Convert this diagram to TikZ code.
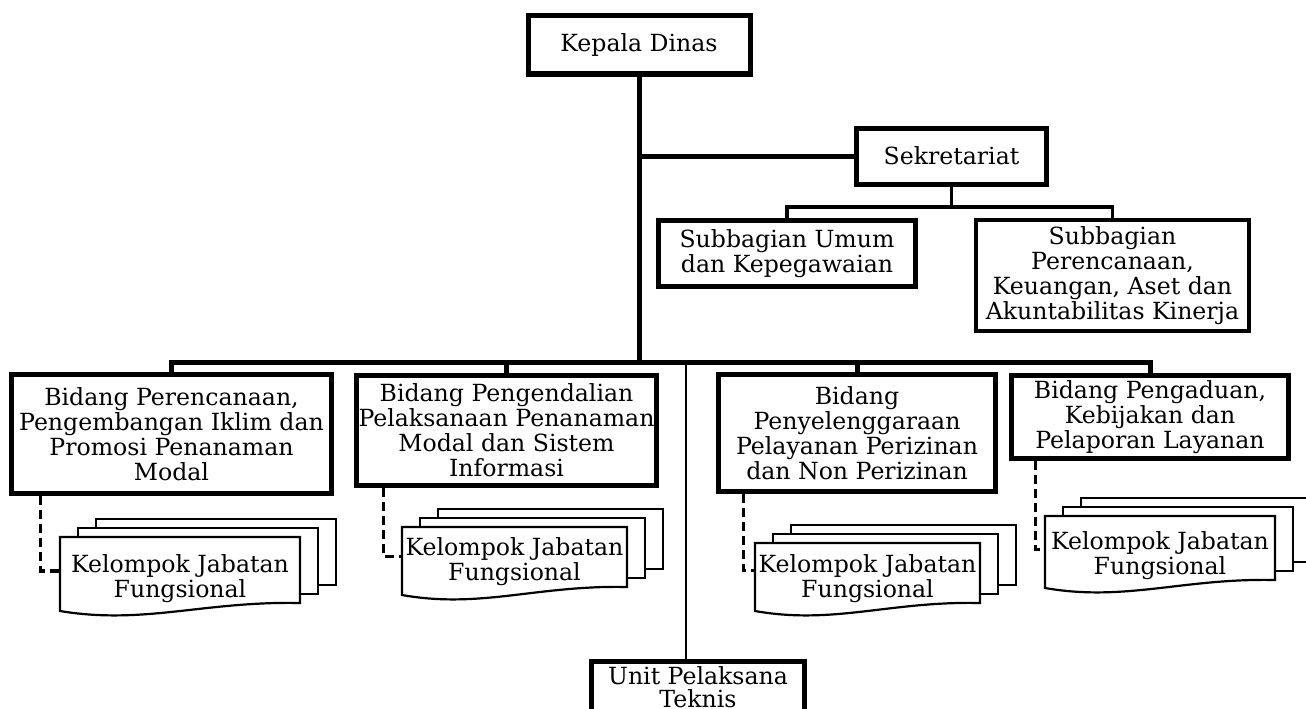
\documentclass[tikz,border=0pt]{standalone}
\usepackage{fontspec}
\setmainfont{DejaVu Serif}
\usetikzlibrary{calc}
\newcommand\kjfsheets[4]{%
  \draw[sheet] ({#1+36},{#2-18}) rectangle ++(#3,#4);
  \draw[sheet] ({#1+18},{#2-9}) rectangle ++(#3,#4);
  \draw[sheet] (#1,#2) -- ({#1+#3},#2) -- ({#1+#3},{#2+#4})
     .. controls ({#1+0.6*#3},{#2+#4-2}) and ({#1+0.35*#3},{#2+#4+22}) ..
     (#1,{#2+#4+8}) -- cycle;}
\begin{document}
\begin{tikzpicture}[x=1pt,y=-1pt,
  txt/.style={font=\fontsize{23.6}{25}\selectfont},
  box/.style={txt,draw,line width=5pt,fill=white,align=center,inner sep=0pt},
  thinbox/.style={box,line width=3.2pt},
  conn/.style={line width=5pt},
  subconn/.style={line width=3.8pt},
  thinconn/.style={line width=1.6pt},
  sheet/.style={draw,line width=2.2pt,fill=white},
  kjf/.style={txt,inner sep=0pt,align=center},
  dsh/.style={line width=3.6pt,dash pattern=on 9pt off 5pt}]
\clip (0,0) rectangle (1306,709);
\fill[white] (0,0) rectangle (1306,709);

% boxes
\node[box,minimum width=222pt,minimum height=58pt] (kd) at (639,45) {Kepala Dinas};
\node[box,minimum width=190pt,minimum height=56pt] (sek) at (951.5,156) {Sekretariat};
\node[box,minimum width=257pt,minimum height=66pt] (sum) at (787,253.5) {Subbagian Umum\\dan Kepegawaian};
\node[thinbox,minimum width=273pt,minimum height=111pt] (spk) at (1112.5,275.5) {Subbagian\\Perencanaan,\\Keuangan, Aset dan\\Akuntabilitas Kinerja};
\node[box,minimum width=320pt,minimum height=119pt] (b1) at (171.5,434) {Bidang Perencanaan,\\Pengembangan Iklim dan\\Promosi Penanaman\\Modal};
\node[box,minimum width=300pt,minimum height=110pt] (b2) at (506.5,430.5) {Bidang Pengendalian\\Pelaksanaan Penanaman\\Modal dan Sistem\\Informasi};
\node[box,minimum width=277pt,minimum height=117pt] (b3) at (857,433) {Bidang\\Penyelenggaraan\\Pelayanan Perizinan\\dan Non Perizinan};
\node[box,minimum width=277pt,minimum height=83pt] (b4) at (1150,417) {Bidang Pengaduan,\\Kebijakan dan\\Pelaporan Layanan};
\node[box,font=\fontsize{23.6}{22.5}\selectfont,minimum width=213pt,minimum height=62pt,text depth=11pt,anchor=north] (upt) at (698,659) {Unit Pelaksana\\Teknis};

% stacked documents
\kjfsheets{60}{537}{240}{66}
\node[kjf,minimum width=240pt] (k1) at (180,579) {Kelompok Jabatan\\Fungsional};
\kjfsheets{402}{527}{225}{60}
\node[kjf,minimum width=225pt] (k2) at (514.5,561.5) {Kelompok Jabatan\\Fungsional};
\kjfsheets{755}{543}{225}{60}
\node[kjf,minimum width=225pt] (k3) at (867.5,578.5) {Kelompok Jabatan\\Fungsional};
\kjfsheets{1045}{516}{230}{64}
\node[kjf,minimum width=230pt] (k4) at (1160,555.5) {Kelompok Jabatan\\Fungsional};

% connectors
\coordinate (bj) at (639,362);
\coordinate (tj) at (686,362);
\coordinate (sj) at (951.5,207);
\draw[conn] (kd.south) -- (bj);
\draw[conn] (kd.south |- sek.west) -- (sek.west);
\draw[conn] (b1.north) |- (bj) -| (b4.north);
\draw[conn] (b2.north) -- (b2.north |- bj);
\draw[conn] (b3.north) -- (b3.north |- bj);
\draw[thinconn] (tj) -- (tj |- upt.north);
\draw[subconn] (sek.south) -- (sj);
\draw[subconn] (sum.north) |- (sj) -| (spk.north);

\draw[dsh] ($(b1.south west)+(31.5,0)$) |- ($(k1.west)+(0,-8)$);
\draw[dsh] ($(b2.south west)+(29.5,0)$) |- ($(k2.west)+(0,-5)$);
\draw[dsh] ($(b3.south west)+(27.5,0)$) |- ($(k3.west)+(0,-8)$);
\draw[dsh] ($(b4.south west)+(26.5,0)$) |- ($(k4.west)+(0,-6)$);
\end{tikzpicture}
\end{document}
